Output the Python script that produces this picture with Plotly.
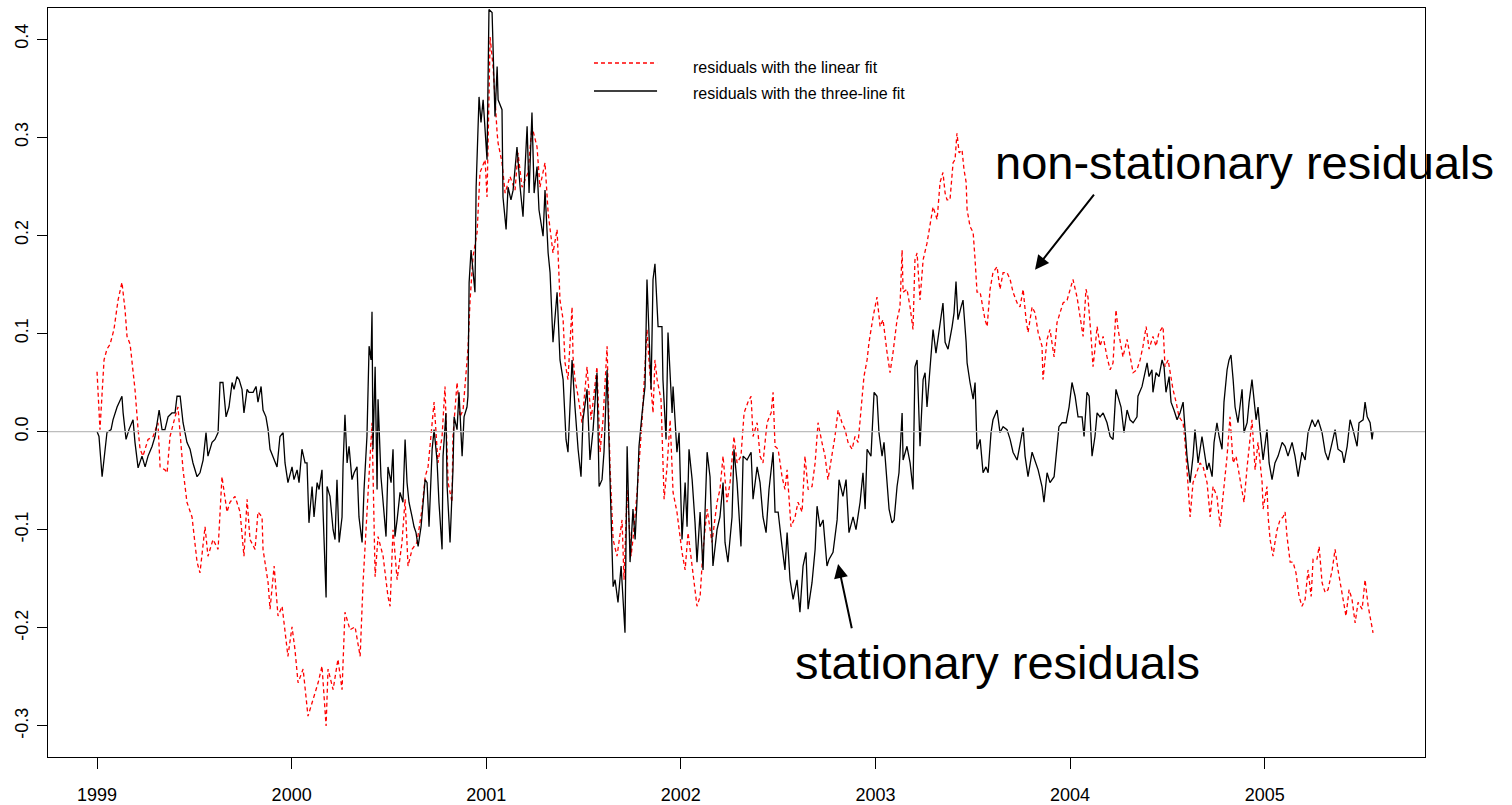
import plotly.graph_objects as go

# Residuals of the linear fit (dashed red), sampled dates as decimal years
linear_t = [
    1999.000, 1999.015, 1999.036, 1999.051, 1999.067, 1999.087, 1999.108, 1999.128, 1999.144, 1999.154,
    1999.170, 1999.180, 1999.195, 1999.211, 1999.221, 1999.236, 1999.262, 1999.288, 1999.313, 1999.324,
    1999.349, 1999.360, 1999.375, 1999.401, 1999.416, 1999.442, 1999.462, 1999.488, 1999.514, 1999.529,
    1999.555, 1999.570, 1999.596, 1999.622, 1999.642, 1999.668, 1999.683, 1999.709, 1999.735, 1999.755,
    1999.771, 1999.786, 1999.812, 1999.827, 1999.848, 1999.853, 1999.879, 1999.889, 1999.910, 1999.930,
    1999.951, 1999.981, 2000.002, 2000.017, 2000.033, 2000.059, 2000.084, 2000.110, 2000.136, 2000.156,
    2000.177, 2000.187, 2000.213, 2000.238, 2000.259, 2000.274, 2000.300, 2000.326, 2000.352, 2000.367,
    2000.387, 2000.403, 2000.413, 2000.429, 2000.444, 2000.470, 2000.495, 2000.506, 2000.521, 2000.542,
    2000.567, 2000.583, 2000.598, 2000.619, 2000.644, 2000.670, 2000.686, 2000.701, 2000.732, 2000.752,
    2000.773, 2000.788, 2000.804, 2000.824, 2000.829, 2000.850, 2000.865, 2000.881, 2000.906, 2000.917,
    2000.932, 2000.953, 2000.968, 2000.994, 2001.004, 2001.020, 2001.035, 2001.056, 2001.061, 2001.081,
    2001.097, 2001.122, 2001.148, 2001.163, 2001.184, 2001.215, 2001.235, 2001.261, 2001.276, 2001.302,
    2001.318, 2001.343, 2001.364, 2001.379, 2001.395, 2001.405, 2001.420, 2001.441, 2001.446, 2001.456,
    2001.472, 2001.492, 2001.508, 2001.518, 2001.539, 2001.554, 2001.569, 2001.585, 2001.600, 2001.621,
    2001.636, 2001.652, 2001.672, 2001.698, 2001.708, 2001.724, 2001.744, 2001.754, 2001.775, 2001.801,
    2001.816, 2001.826, 2001.837, 2001.857, 2001.867, 2001.878, 2001.898, 2001.914, 2001.929, 2001.945,
    2001.960, 2001.980, 2002.006, 2002.022, 2002.037, 2002.063, 2002.083, 2002.099, 2002.114, 2002.135,
    2002.160, 2002.186, 2002.201, 2002.217, 2002.237, 2002.253, 2002.273, 2002.289, 2002.309, 2002.325,
    2002.345, 2002.361, 2002.371, 2002.392, 2002.407, 2002.422, 2002.443, 2002.464, 2002.474, 2002.484,
    2002.500, 2002.520, 2002.535, 2002.546, 2002.566, 2002.587, 2002.602, 2002.623, 2002.638, 2002.654,
    2002.674, 2002.690, 2002.705, 2002.725, 2002.741, 2002.756, 2002.777, 2002.792, 2002.808, 2002.828,
    2002.844, 2002.859, 2002.880, 2002.895, 2002.911, 2002.931, 2002.941, 2002.957, 2002.967, 2002.988,
    2003.008, 2003.024, 2003.039, 2003.060, 2003.075, 2003.090, 2003.111, 2003.126, 2003.137, 2003.142,
    2003.162, 2003.178, 2003.193, 2003.203, 2003.214, 2003.229, 2003.245, 2003.265, 2003.281, 2003.296,
    2003.317, 2003.332, 2003.347, 2003.358, 2003.368, 2003.383, 2003.399, 2003.409, 2003.419, 2003.430,
    2003.445, 2003.455, 2003.466, 2003.471, 2003.486, 2003.502, 2003.512, 2003.522, 2003.538, 2003.553,
    2003.563, 2003.574, 2003.589, 2003.604, 2003.625, 2003.640, 2003.656, 2003.676, 2003.692, 2003.707,
    2003.728, 2003.743, 2003.759, 2003.774, 2003.784, 2003.805, 2003.820, 2003.836, 2003.856, 2003.861,
    2003.882, 2003.897, 2003.918, 2003.933, 2003.949, 2003.964, 2003.985, 2004.000, 2004.015, 2004.036,
    2004.051, 2004.067, 2004.082, 2004.092, 2004.108, 2004.118, 2004.128, 2004.139, 2004.154, 2004.170,
    2004.190, 2004.206, 2004.221, 2004.236, 2004.247, 2004.262, 2004.272, 2004.293, 2004.308, 2004.324,
    2004.344, 2004.360, 2004.375, 2004.391, 2004.406, 2004.426, 2004.442, 2004.457, 2004.478, 2004.488,
    2004.504, 2004.519, 2004.529, 2004.545, 2004.560, 2004.581, 2004.591, 2004.601, 2004.617, 2004.632,
    2004.653, 2004.668, 2004.684, 2004.704, 2004.720, 2004.735, 2004.755, 2004.771, 2004.786, 2004.807,
    2004.822, 2004.838, 2004.853, 2004.874, 2004.894, 2004.910, 2004.935, 2004.951, 2004.966, 2004.987,
    2004.992, 2005.012, 2005.018, 2005.028, 2005.043, 2005.053, 2005.064, 2005.079, 2005.095, 2005.105,
    2005.115, 2005.131, 2005.146, 2005.161, 2005.177, 2005.192, 2005.208, 2005.223, 2005.239, 2005.249,
    2005.269, 2005.280, 2005.295, 2005.311, 2005.326, 2005.347, 2005.362, 2005.377, 2005.393, 2005.403,
    2005.418, 2005.434, 2005.449, 2005.465, 2005.480, 2005.501, 2005.516, 2005.532, 2005.547, 2005.557,
]
linear_resid = [
    0.061, 0.002, 0.073, 0.084, 0.089, 0.104, 0.134, 0.152, 0.124, 0.097,
    0.089, 0.070, 0.043, 0.002, -0.018, -0.025, -0.008, -0.005, 0.009, -0.036,
    -0.039, -0.042, -0.005, 0.015, 0.025, -0.039, -0.072, -0.087, -0.133, -0.144,
    -0.097, -0.127, -0.110, -0.120, -0.046, -0.082, -0.072, -0.066, -0.082, -0.127,
    -0.069, -0.110, -0.120, -0.082, -0.087, -0.120, -0.154, -0.181, -0.137, -0.188,
    -0.178, -0.229, -0.199, -0.222, -0.256, -0.242, -0.290, -0.273, -0.256, -0.239,
    -0.300, -0.242, -0.263, -0.232, -0.263, -0.184, -0.202, -0.199, -0.229, -0.154,
    -0.087, -0.025, 0.009, -0.148, -0.107, -0.127, -0.168, -0.178, -0.100, -0.151,
    -0.113, -0.069, -0.137, -0.120, -0.113, -0.079, -0.046, -0.036, 0.030, -0.032,
    -0.005, 0.046, -0.052, -0.072, -0.005, 0.050, 0.015, 0.022, 0.084, 0.134,
    0.178, 0.203, 0.264, 0.277, 0.239, 0.402, 0.372, 0.304, 0.294, 0.274,
    0.243, 0.260, 0.246, 0.284, 0.249, 0.264, 0.311, 0.290, 0.249, 0.274,
    0.223, 0.182, 0.206, 0.134, 0.114, 0.070, 0.053, 0.127, 0.076, 0.053,
    0.036, 0.009, 0.046, 0.066, 0.012, 0.040, 0.066, -0.021, 0.012, 0.087,
    -0.036, -0.110, -0.127, -0.090, -0.151, -0.059, -0.127, -0.110, -0.062, 0.012,
    0.073, 0.104, 0.070, 0.019, 0.073, 0.053, 0.033, -0.069, -0.036, 0.012,
    -0.062, -0.082, -0.123, -0.141, -0.103, -0.144, -0.178, -0.168, -0.120, -0.079,
    -0.113, -0.072, -0.059, -0.025, -0.072, -0.052, -0.005, -0.032, -0.025, 0.019,
    0.030, 0.036, -0.005, 0.009, -0.025, -0.032, 0.009, 0.019, 0.040, -0.015,
    -0.018, -0.046, -0.059, -0.039, -0.097, -0.087, -0.072, -0.082, -0.025, -0.059,
    -0.056, -0.032, 0.009, -0.011, -0.025, -0.049, -0.025, -0.005, 0.022, 0.009,
    0.002, -0.011, -0.018, -0.005, -0.011, 0.030, 0.056, 0.073, 0.091, 0.117,
    0.137, 0.107, 0.114, 0.080, 0.060, 0.080, 0.114, 0.127, 0.185, 0.142,
    0.145, 0.127, 0.104, 0.175, 0.182, 0.134, 0.175, 0.192, 0.209, 0.229,
    0.216, 0.254, 0.264, 0.243, 0.236, 0.236, 0.274, 0.277, 0.304, 0.284,
    0.287, 0.267, 0.254, 0.226, 0.209, 0.203, 0.175, 0.142, 0.142, 0.127,
    0.114, 0.107, 0.145, 0.162, 0.168, 0.145, 0.162, 0.162, 0.155, 0.142,
    0.131, 0.127, 0.145, 0.114, 0.101, 0.127, 0.121, 0.101, 0.087, 0.053,
    0.094, 0.104, 0.076, 0.111, 0.121, 0.131, 0.134, 0.145, 0.155, 0.137,
    0.117, 0.097, 0.145, 0.137, 0.097, 0.066, 0.084, 0.107, 0.087, 0.097,
    0.076, 0.063, 0.070, 0.124, 0.104, 0.087, 0.076, 0.094, 0.076, 0.060,
    0.063, 0.073, 0.087, 0.107, 0.084, 0.097, 0.087, 0.101, 0.107, 0.066,
    0.073, 0.056, 0.043, 0.030, 0.015, 0.009, -0.011, -0.039, -0.087, -0.052,
    -0.039, -0.032, -0.036, -0.052, -0.087, -0.056, -0.066, -0.097, -0.066, -0.025,
    0.015, -0.032, -0.025, -0.049, -0.072, -0.036, 0.012, -0.039, -0.011, -0.052,
    -0.079, -0.056, -0.087, -0.110, -0.127, -0.113, -0.100, -0.090, -0.087, -0.082,
    -0.107, -0.133, -0.133, -0.144, -0.168, -0.178, -0.171, -0.141, -0.168, -0.130,
    -0.130, -0.117, -0.154, -0.164, -0.161, -0.141, -0.120, -0.141, -0.161, -0.174,
    -0.188, -0.161, -0.171, -0.195, -0.174, -0.181, -0.151, -0.178, -0.195, -0.205,
]

# Residuals of the three-line fit (solid black)
threeline_t = [
    1999.000, 1999.010, 1999.026, 1999.041, 1999.051, 1999.072, 1999.082, 1999.103, 1999.128, 1999.134,
    1999.149, 1999.164, 1999.185, 1999.195, 1999.211, 1999.231, 1999.247, 1999.262, 1999.283, 1999.298,
    1999.319, 1999.334, 1999.349, 1999.365, 1999.385, 1999.401, 1999.411, 1999.427, 1999.442, 1999.462,
    1999.478, 1999.493, 1999.514, 1999.529, 1999.545, 1999.560, 1999.570, 1999.591, 1999.606, 1999.622,
    1999.632, 1999.647, 1999.663, 1999.678, 1999.694, 1999.704, 1999.719, 1999.730, 1999.745, 1999.755,
    1999.771, 1999.781, 1999.802, 1999.817, 1999.827, 1999.843, 1999.853, 1999.868, 1999.879, 1999.889,
    1999.904, 1999.925, 1999.940, 1999.956, 1999.966, 1999.981, 2000.002, 2000.012, 2000.028, 2000.038,
    2000.053, 2000.069, 2000.079, 2000.089, 2000.105, 2000.115, 2000.131, 2000.141, 2000.156, 2000.161,
    2000.177, 2000.182, 2000.197, 2000.213, 2000.223, 2000.233, 2000.244, 2000.259, 2000.264, 2000.274,
    2000.285, 2000.295, 2000.310, 2000.321, 2000.336, 2000.346, 2000.362, 2000.372, 2000.387, 2000.398,
    2000.408, 2000.413, 2000.418, 2000.429, 2000.439, 2000.444, 2000.459, 2000.470, 2000.485, 2000.495,
    2000.511, 2000.521, 2000.531, 2000.542, 2000.557, 2000.572, 2000.583, 2000.593, 2000.603, 2000.619,
    2000.629, 2000.639, 2000.650, 2000.665, 2000.675, 2000.686, 2000.696, 2000.706, 2000.722, 2000.732,
    2000.747, 2000.757, 2000.773, 2000.778, 2000.793, 2000.799, 2000.809, 2000.814, 2000.829, 2000.835,
    2000.850, 2000.860, 2000.876, 2000.886, 2000.901, 2000.906, 2000.912, 2000.922, 2000.942, 2000.948,
    2000.963, 2000.973, 2000.984, 2001.004, 2001.014, 2001.030, 2001.045, 2001.056, 2001.061, 2001.081,
    2001.086, 2001.102, 2001.112, 2001.127, 2001.138, 2001.158, 2001.174, 2001.189, 2001.199, 2001.210,
    2001.220, 2001.235, 2001.246, 2001.261, 2001.271, 2001.292, 2001.302, 2001.318, 2001.328, 2001.343,
    2001.364, 2001.379, 2001.395, 2001.410, 2001.420, 2001.441, 2001.456, 2001.472, 2001.487, 2001.497,
    2001.518, 2001.533, 2001.549, 2001.569, 2001.580, 2001.595, 2001.605, 2001.621, 2001.636, 2001.652,
    2001.662, 2001.677, 2001.693, 2001.713, 2001.724, 2001.739, 2001.754, 2001.765, 2001.775, 2001.785,
    2001.801, 2001.816, 2001.826, 2001.832, 2001.847, 2001.857, 2001.867, 2001.883, 2001.903, 2001.908,
    2001.924, 2001.934, 2001.955, 2001.960, 2001.980, 2001.991, 2002.006, 2002.022, 2002.032, 2002.042,
    2002.058, 2002.073, 2002.083, 2002.099, 2002.114, 2002.135, 2002.150, 2002.165, 2002.186, 2002.201,
    2002.217, 2002.227, 2002.242, 2002.263, 2002.273, 2002.289, 2002.309, 2002.320, 2002.340, 2002.361,
    2002.371, 2002.392, 2002.407, 2002.422, 2002.438, 2002.453, 2002.474, 2002.484, 2002.500, 2002.520,
    2002.535, 2002.546, 2002.561, 2002.577, 2002.597, 2002.612, 2002.628, 2002.643, 2002.654, 2002.674,
    2002.690, 2002.700, 2002.715, 2002.731, 2002.751, 2002.762, 2002.782, 2002.803, 2002.813, 2002.833,
    2002.849, 2002.864, 2002.885, 2002.900, 2002.921, 2002.936, 2002.947, 2002.957, 2002.977, 2002.993,
    2003.008, 2003.018, 2003.034, 2003.044, 2003.060, 2003.070, 2003.085, 2003.096, 2003.111, 2003.121,
    2003.137, 2003.142, 2003.162, 2003.178, 2003.193, 2003.203, 2003.214, 2003.229, 2003.245, 2003.255,
    2003.265, 2003.281, 2003.296, 2003.311, 2003.327, 2003.347, 2003.358, 2003.373, 2003.394, 2003.404,
    2003.414, 2003.424, 2003.440, 2003.450, 2003.466, 2003.471, 2003.486, 2003.502, 2003.512, 2003.522,
    2003.538, 2003.553, 2003.568, 2003.579, 2003.594, 2003.604, 2003.625, 2003.640, 2003.656, 2003.676,
    2003.692, 2003.707, 2003.728, 2003.743, 2003.759, 2003.769, 2003.784, 2003.805, 2003.820, 2003.836,
    2003.856, 2003.866, 2003.882, 2003.897, 2003.918, 2003.933, 2003.943, 2003.959, 2003.980, 2003.995,
    2004.010, 2004.026, 2004.041, 2004.062, 2004.072, 2004.087, 2004.098, 2004.113, 2004.128, 2004.139,
    2004.154, 2004.170, 2004.190, 2004.206, 2004.221, 2004.236, 2004.247, 2004.262, 2004.277, 2004.293,
    2004.308, 2004.324, 2004.344, 2004.349, 2004.370, 2004.380, 2004.396, 2004.406, 2004.421, 2004.426,
    2004.442, 2004.457, 2004.473, 2004.483, 2004.493, 2004.509, 2004.519, 2004.534, 2004.550, 2004.565,
    2004.581, 2004.591, 2004.601, 2004.617, 2004.632, 2004.642, 2004.658, 2004.678, 2004.689, 2004.704,
    2004.714, 2004.730, 2004.740, 2004.755, 2004.766, 2004.781, 2004.791, 2004.807, 2004.817, 2004.827,
    2004.838, 2004.848, 2004.863, 2004.884, 2004.894, 2004.910, 2004.920, 2004.935, 2004.956, 2004.966,
    2004.976, 2004.992, 2005.012, 2005.023, 2005.038, 2005.053, 2005.069, 2005.090, 2005.105, 2005.120,
    2005.141, 2005.156, 2005.172, 2005.192, 2005.208, 2005.223, 2005.244, 2005.259, 2005.275, 2005.295,
    2005.311, 2005.326, 2005.347, 2005.362, 2005.377, 2005.398, 2005.408, 2005.424, 2005.439, 2005.454,
    2005.475, 2005.485, 2005.506, 2005.516, 2005.527, 2005.542, 2005.552, 2005.557,
]
threeline_resid = [
    0.000, -0.005, -0.046, -0.018, -0.001, 0.002, 0.012, 0.025, 0.036, 0.019,
    -0.008, 0.002, 0.012, -0.011, -0.037, -0.025, -0.036, -0.025, -0.015, -0.005,
    0.022, 0.002, 0.002, 0.015, 0.019, 0.019, 0.036, 0.036, 0.009, -0.011,
    -0.018, -0.032, -0.046, -0.042, -0.029, -0.001, -0.025, -0.011, -0.008, -0.001,
    0.050, 0.050, 0.015, 0.025, 0.050, 0.043, 0.056, 0.053, 0.043, 0.019,
    0.043, 0.040, 0.040, 0.046, 0.030, 0.046, 0.022, 0.015, 0.002, -0.018,
    -0.025, -0.036, -0.005, -0.001, -0.032, -0.052, -0.036, -0.049, -0.039, -0.052,
    -0.018, -0.032, -0.032, -0.093, -0.056, -0.087, -0.052, -0.059, -0.039, -0.079,
    -0.169, -0.056, -0.066, -0.100, -0.110, -0.049, -0.113, -0.087, -0.036, 0.017,
    -0.032, -0.015, -0.049, -0.042, -0.036, -0.087, -0.113, -0.059, -0.005, 0.087,
    0.073, 0.122, -0.018, 0.066, -0.059, 0.033, -0.046, -0.072, -0.107, -0.036,
    -0.052, -0.018, -0.107, -0.090, -0.062, -0.072, -0.008, -0.052, -0.072, -0.087,
    -0.097, -0.103, -0.117, -0.097, -0.072, -0.049, -0.052, -0.097, -0.018, 0.002,
    -0.029, -0.072, -0.120, -0.025, 0.019, -0.056, -0.093, -0.113, -0.039, 0.015,
    0.002, 0.040, -0.025, 0.015, 0.025, 0.036, 0.152, 0.185, 0.142, 0.249,
    0.341, 0.315, 0.338, 0.277, 0.430, 0.427, 0.321, 0.372, 0.338, 0.328,
    0.239, 0.206, 0.249, 0.236, 0.246, 0.290, 0.249, 0.219, 0.267, 0.311,
    0.243, 0.325, 0.243, 0.270, 0.226, 0.199, 0.246, 0.182, 0.162, 0.091,
    0.142, 0.073, 0.053, -0.008, -0.021, 0.073, 0.025, -0.018, -0.046, 0.012,
    0.043, -0.029, 0.002, 0.060, -0.056, -0.049, -0.021, 0.063, -0.049, -0.158,
    -0.151, -0.174, -0.137, -0.205, -0.015, -0.133, -0.079, -0.110, -0.069, -0.015,
    0.019, 0.046, 0.155, 0.121, 0.043, 0.155, 0.171, 0.107, 0.107, 0.053,
    -0.008, 0.101, 0.019, 0.046, -0.021, -0.001, -0.110, -0.052, -0.097, -0.018,
    -0.049, -0.093, -0.133, -0.082, -0.141, -0.021, -0.046, -0.137, -0.100, -0.087,
    -0.052, -0.113, -0.133, -0.087, -0.018, -0.052, -0.117, -0.025, -0.029, -0.021,
    -0.069, -0.036, -0.052, -0.087, -0.103, -0.059, -0.021, -0.082, -0.082, -0.117,
    -0.141, -0.103, -0.151, -0.171, -0.151, -0.184, -0.137, -0.123, -0.181, -0.154,
    -0.120, -0.076, -0.097, -0.090, -0.137, -0.130, -0.123, -0.090, -0.049, -0.066,
    -0.049, -0.103, -0.087, -0.100, -0.072, -0.042, -0.079, -0.018, -0.025, 0.040,
    0.036, -0.001, -0.025, -0.011, -0.052, -0.079, -0.093, -0.090, -0.056, -0.042,
    0.019, -0.029, -0.015, -0.032, -0.059, 0.066, 0.073, -0.015, 0.053, 0.060,
    0.025, 0.066, 0.104, 0.080, 0.101, 0.131, 0.091, 0.084, 0.107, 0.121,
    0.153, 0.114, 0.127, 0.134, 0.091, 0.070, 0.050, 0.033, 0.050, -0.018,
    -0.008, -0.042, -0.036, -0.042, -0.001, 0.012, 0.022, -0.001, 0.005, 0.002,
    -0.008, -0.021, -0.029, -0.011, 0.004, -0.025, -0.046, -0.021, -0.029, -0.039,
    -0.056, -0.072, -0.042, -0.052, -0.046, -0.015, 0.005, 0.009, 0.009, 0.025,
    0.050, 0.036, 0.015, 0.015, -0.005, 0.040, 0.036, -0.025, -0.005, 0.019,
    0.015, 0.019, 0.009, -0.005, -0.008, 0.043, 0.036, 0.025, -0.001, 0.022,
    0.012, 0.009, 0.015, 0.036, 0.046, 0.056, 0.070, 0.056, 0.063, 0.040,
    0.060, 0.056, 0.073, 0.066, 0.040, 0.056, 0.030, 0.022, 0.012, 0.019,
    0.030, 0.002, -0.025, -0.052, -0.025, 0.002, -0.032, -0.005, -0.018, -0.039,
    -0.032, -0.046, -0.011, 0.009, -0.005, -0.018, 0.030, 0.063, 0.073, 0.078,
    0.053, 0.025, 0.009, 0.043, -0.001, 0.009, 0.030, 0.053, 0.012, 0.025,
    0.002, -0.029, 0.002, -0.032, -0.049, -0.032, -0.025, -0.011, -0.015, -0.025,
    -0.011, -0.025, -0.046, -0.021, -0.029, -0.001, 0.012, 0.005, 0.012, -0.001,
    -0.021, -0.029, -0.011, 0.002, -0.018, -0.021, -0.032, -0.015, 0.012, 0.002,
    -0.015, 0.009, 0.012, 0.030, 0.015, 0.009, -0.008, 0.000,
]

year_ticks = [1999, 2000, 2001, 2002, 2003, 2004, 2005]
value_ticks = [-0.3, -0.2, -0.1, 0.0, 0.1, 0.2, 0.3, 0.4]

FONT = "Liberation Sans, Arial, Helvetica, sans-serif"

fig = go.Figure()

fig.add_trace(go.Scatter(
    x=linear_t, y=linear_resid, mode="lines",
    name="residuals with the linear fit",
    line=dict(color="#ff0000", width=1.3, dash="4px,3px"),
    showlegend=False,
))
fig.add_trace(go.Scatter(
    x=threeline_t, y=threeline_resid, mode="lines",
    name="residuals with the three-line fit",
    line=dict(color="#000000", width=1.3),
    showlegend=False,
))

# horizontal reference at zero
fig.add_shape(type="line", xref="paper", yref="y", x0=0, x1=1, y0=0, y1=0,
              line=dict(color="#bdbdbd", width=1.2))

# hand-drawn legend block
legend_rows = [
    ("residuals with the linear fit", "#ff0000", "4px,3px", 0.9266, 0.9212),
    ("residuals with the three-line fit", "#000000", "solid", 0.8892, 0.8852),
]
for label, color, dash, ly, ty in legend_rows:
    fig.add_shape(type="line", xref="paper", yref="paper",
                  x0=0.3965, x1=0.4423, y0=ly, y1=ly,
                  line=dict(color=color, width=1.3, dash=dash))
    fig.add_annotation(xref="paper", yref="paper", x=0.4670, y=ty,
                       text=label, showarrow=False, xanchor="left", yanchor="middle",
                       font=dict(family=FONT, size=16, color="#000000"))

# callouts
fig.add_annotation(x=2003.604, y=0.274, text="non-stationary residuals", showarrow=False,
                   xanchor="left", yanchor="middle",
                   font=dict(family=FONT, size=47, color="#000000"))
fig.add_annotation(x=2002.577, y=-0.235, text="stationary residuals", showarrow=False,
                   xanchor="left", yanchor="middle",
                   font=dict(family=FONT, size=47, color="#000000"))
fig.add_annotation(x=2003.820, y=0.165, ax=2004.129, ay=0.243, axref="x", ayref="y",
                   text="", showarrow=True, arrowhead=2, arrowsize=1.4, arrowwidth=2,
                   arrowcolor="#000000", standoff=0, startstandoff=0)
fig.add_annotation(x=2002.808, y=-0.135, ax=2002.880, ay=-0.202, axref="x", ayref="y",
                   text="", showarrow=True, arrowhead=2, arrowsize=1.4, arrowwidth=2,
                   arrowcolor="#000000", standoff=0, startstandoff=0)

fig.update_layout(
    width=1512, height=805,
    margin=dict(l=48, r=87, t=8, b=48),
    paper_bgcolor="white", plot_bgcolor="white",
    font=dict(family=FONT, color="#000000"),
    xaxis=dict(
        range=[1998.748, 2005.824],
        tickmode="array", tickvals=year_ticks, ticktext=[str(y) for y in year_ticks],
        ticks="outside", ticklen=11, tickwidth=1, tickcolor="#000000",
        showline=True, mirror=True, linecolor="#000000", linewidth=1,
        showgrid=False, zeroline=False, automargin=False,
        tickfont=dict(family=FONT, size=18, color="#000000"),
        ticklabelstandoff=10,
    ),
    yaxis=dict(
        range=[-0.3316, 0.4316],
        tickmode="array", tickvals=value_ticks, ticktext=[f"{v:.1f}" for v in value_ticks],
        tickangle=-90,
        ticks="outside", ticklen=10, tickwidth=1, tickcolor="#000000",
        showline=True, mirror=True, linecolor="#000000", linewidth=1,
        showgrid=False, zeroline=False, automargin=False,
        tickfont=dict(family=FONT, size=18, color="#000000"),
        ticklabelstandoff=2,
    ),
)

fig.write_html("out.html")
